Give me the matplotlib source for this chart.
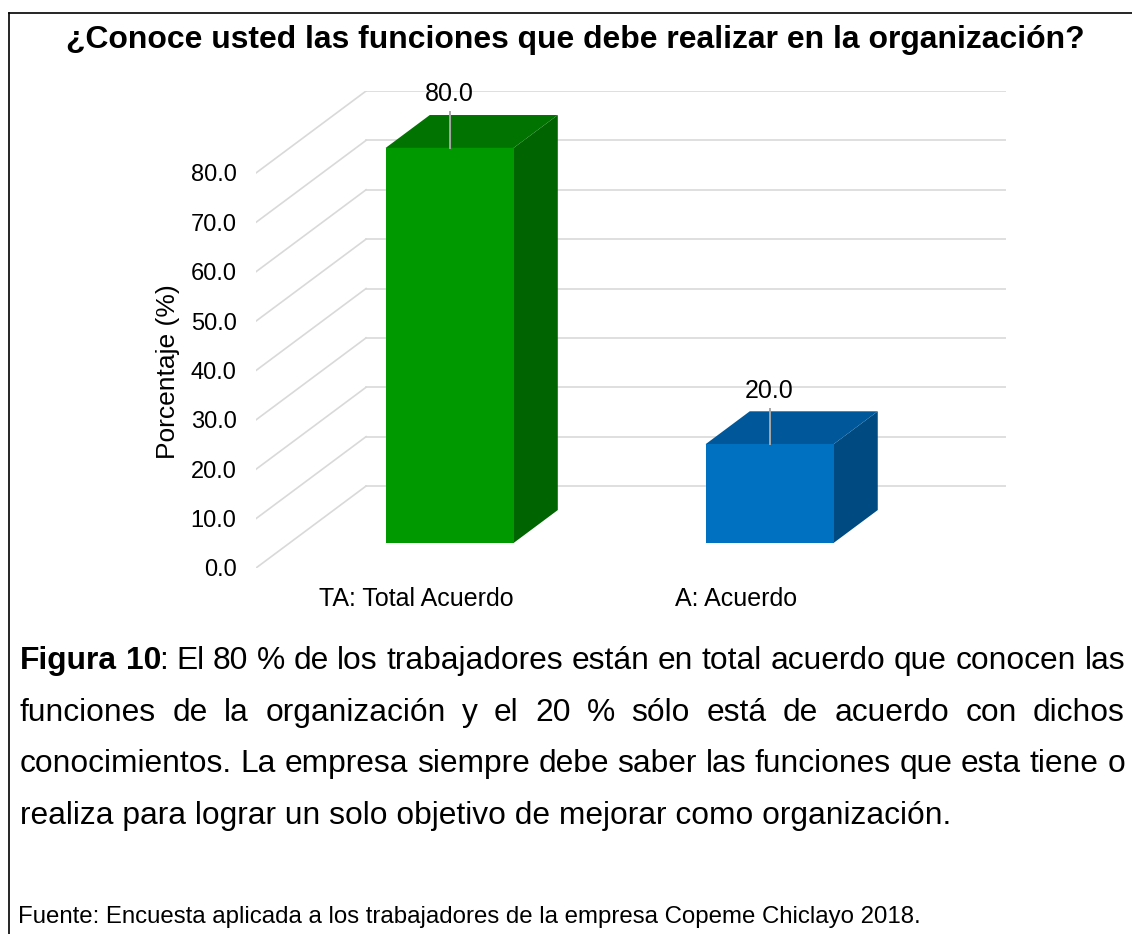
import numpy as np
import matplotlib.pyplot as plt
from matplotlib.patches import Polygon
from matplotlib.lines import Line2D

# data
categories = ["TA: Total Acuerdo", "A: Acuerdo"]
values = [80.0, 20.0]
front_colors = ["#009900", "#0070C0"]
top_colors = ["#007300", "#00589A"]
side_colors = ["#006400", "#004A82"]
yticks = [0, 10, 20, 30, 40, 50, 60, 70, 80]

title = "¿Conoce usted las funciones que debe realizar en la organización?"
caption_bold = "Figura 10"
caption_lines = [
    "Figura 10: El 80 % de los trabajadores están en total acuerdo que conocen las",
    "funciones de la organización y el 20 % sólo está de acuerdo con dichos",
    "conocimientos. La empresa siempre debe saber las funciones que esta tiene o",
    "realiza para lograr un solo objetivo de mejorar como organización.",
]
source = "Fuente: Encuesta aplicada a los trabajadores de la empresa Copeme Chiclayo 2018."

plt.rcParams["font.family"] = ["Liberation Sans", "DejaVu Sans"]

W, H = 1132, 934
fig = plt.figure(figsize=(W / 100, H / 100), dpi=100)
renderer = fig.canvas.get_renderer()


def fx(px):
    return px / W


def fy(py):
    return 1 - py / H


# oblique projection of the floor depth, in data units
depth_x = 0.344
depth_y = 16.6
n = len(categories)

ax = fig.add_axes([fx(256), fy(568), fx(1006) - fx(256), fy(91) - fy(568)])
ax.set_xlim(0, n + depth_x)
ax.set_ylim(0, max(yticks) + depth_y)
ax.patch.set_visible(False)
for s in ax.spines.values():
    s.set_visible(False)

# walls: diagonal lines on the side wall, horizontal on the back wall
grid_c = "#D9D9D9"
for t in yticks:
    ax.plot([0, depth_x], [t, t + depth_y], color=grid_c, lw=1.2, zorder=1)
    ax.plot([depth_x, n + depth_x], [t + depth_y, t + depth_y], color=grid_c, lw=1.2, zorder=1)

# 3d bars
bar_w = 0.4
d0, d1 = 0.305, 0.707
ox0, oy0 = d0 * depth_x, d0 * depth_y
ox1, oy1 = d1 * depth_x, d1 * depth_y
for i, v in enumerate(values):
    xl = i + 0.5 - bar_w / 2
    xr = xl + bar_w
    front = [(xl + ox0, oy0), (xr + ox0, oy0), (xr + ox0, v + oy0), (xl + ox0, v + oy0)]
    top = [(xl + ox0, v + oy0), (xr + ox0, v + oy0), (xr + ox1, v + oy1), (xl + ox1, v + oy1)]
    side = [(xr + ox0, oy0), (xr + ox1, oy1), (xr + ox1, v + oy1), (xr + ox0, v + oy0)]
    ax.add_patch(Polygon(side, closed=True, fc=side_colors[i], ec="none", zorder=3))
    ax.add_patch(Polygon(top, closed=True, fc=top_colors[i], ec="none", zorder=3))
    ax.add_patch(Polygon(front, closed=True, fc=front_colors[i], ec="none", zorder=4))
    cx = i + 0.5 + ox0
    ax.plot([cx, cx], [v + oy0, v + oy0 + 7.2], color="#A6A6A6", lw=1.4, zorder=5)
    ax.text(cx, v + oy0 + 8.4, f"{v:.1f}", ha="center", va="bottom", fontsize=18,
            color="#000000", clip_on=False, zorder=6)

ax.set_yticks(yticks, [f"{t:.1f}" for t in yticks])
ax.tick_params(axis="y", length=0, pad=14, labelsize=17)
ax.set_xticks([i + 0.5 for i in range(n)], categories)
ax.tick_params(axis="x", length=0, pad=14, labelsize=18)

fig.text(fx(168), fy(372), "Porcentaje (%)", rotation=90, ha="center", va="center", fontsize=19)


def fit_size(text, width, weight="normal", base=20.0):
    t = fig.text(0, 0, text, fontsize=base, weight=weight)
    w = t.get_window_extent(renderer).width
    t.remove()
    return base * width / w


# title
title_size = fit_size(title, 1020, "bold")
fig.text(fx(575), fy(48), title, ha="center", va="baseline", fontsize=title_size, weight="bold")

# caption, justified like the document
cap_size = fit_size(caption_lines[-1], 930)
left, right = 20, 1125
baselines = [669, 721, 772, 824]
for li, line in enumerate(caption_lines):
    y = fy(baselines[li])
    if li == len(caption_lines) - 1:
        fig.text(fx(left), y, line, ha="left", va="baseline", fontsize=cap_size)
        continue
    bold_end = len(caption_bold) if li == 0 else 0
    words = []
    pos = 0
    for w in line.split(" "):
        start = line.index(w, pos)
        end = start + len(w)
        pos = end
        segs = []
        if start < bold_end:
            cut = min(end, bold_end)
            segs.append((line[start:cut], True))
            if cut < end:
                segs.append((line[cut:end], False))
        else:
            segs.append((w, False))
        items = []
        for k, (txt, b) in enumerate(segs):
            t = fig.text(0, y, txt, ha="left", va="baseline", fontsize=cap_size,
                         weight="bold" if b else "normal")
            wd = t.get_window_extent(renderer).width
            if k < len(segs) - 1:
                wd -= 2  # tighten the join between bold and normal parts
            items.append((t, wd))
        words.append(items)
    total = sum(wd for items in words for _, wd in items)
    gap = (right - left - total) / (len(words) - 1)
    x = left
    for items in words:
        for t, wd in items:
            t.set_x(fx(x))
            x += wd
        x += gap

# source
src_size = fit_size(source, 899)
fig.text(fx(18), fy(923), source, ha="left", va="baseline", fontsize=src_size)

# frame around the figure
fig.add_artist(Line2D([fx(9), fx(9)], [fy(13), 0], color="black", lw=1.2))
fig.add_artist(Line2D([fx(9), 1], [fy(13), fy(13)], color="black", lw=1.2))

fig.savefig("out.png", dpi=100)
